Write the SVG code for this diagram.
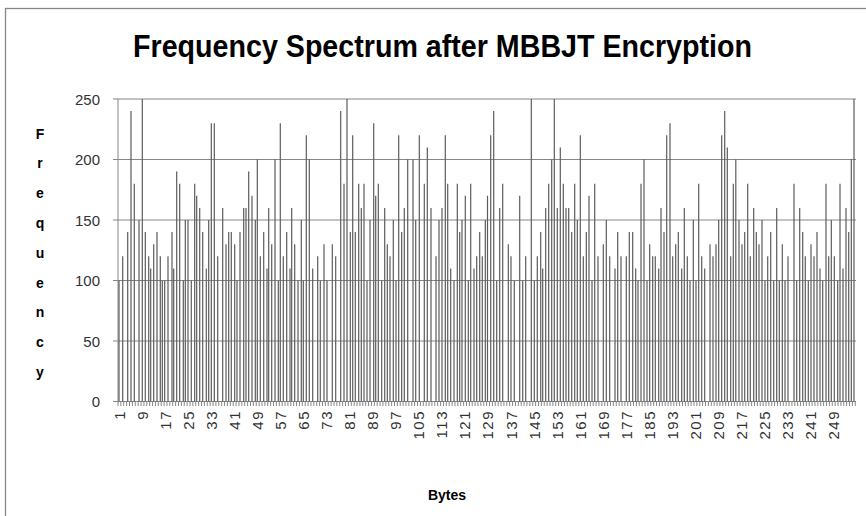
<svg xmlns="http://www.w3.org/2000/svg" width="866" height="516" viewBox="0 0 866 516">
  <style>
    .frame { fill: #ffffff; stroke: #868686; stroke-width: 1.3; }
    .grid { stroke: #868686; stroke-width: 1; fill: none; }
    .axis { stroke: #868686; stroke-width: 1; fill: none; }
    .bars { stroke: #5c5c5c; stroke-width: 1.2; fill: none; }
    .title { font-family: "Liberation Sans", Arial, sans-serif; font-weight: bold; font-size: 32px; fill: #000000; }
    .ylab { font-family: "Liberation Sans", Arial, sans-serif; font-size: 15px; fill: #333333; text-anchor: end; }
    .xlab { font-family: "Liberation Sans", Arial, sans-serif; font-size: 15px; letter-spacing: 1.5px; fill: #333333; text-anchor: end; }
    .axtitle { font-family: "Liberation Sans", Arial, sans-serif; font-weight: bold; font-size: 14px; fill: #000000; text-anchor: middle; }
  </style>

  <!-- chart area -->
  <rect class="frame" x="5.5" y="8.5" width="900" height="600"/>

  <!-- chart title -->
  <text class="title" x="442.5" y="57" text-anchor="middle" textLength="619" lengthAdjust="spacingAndGlyphs">Frequency Spectrum after MBBJT Encryption</text>

  <!-- horizontal gridlines: 250, 200, 150, 100, 50 -->
  <g id="gridlines">
    <path class="grid" d="M118 99H856M118 159.5H856M118 220H856M118 280.5H856M118 341H856"/>
  </g>

  <!-- axes with tick marks -->
  <g id="axes">
    <path class="axis" d="M118 99V401.5H856"/>
    <path class="axis" d="M113 99H118M113 159.5H118M113 220H118M113 280.5H118M113 341H118M113 401.5H118"/>
    <path class="axis" d="M118 401.5V406 M120.88 401.5V406 M123.76 401.5V406 M126.64 401.5V406 M129.52 401.5V406 M132.40 401.5V406 M135.28 401.5V406 M138.16 401.5V406 M141.04 401.5V406 M143.92 401.5V406 M146.80 401.5V406 M149.68 401.5V406 M152.56 401.5V406 M155.44 401.5V406 M158.32 401.5V406 M161.20 401.5V406 M164.08 401.5V406 M166.96 401.5V406 M169.84 401.5V406 M172.72 401.5V406 M175.60 401.5V406 M178.48 401.5V406 M181.36 401.5V406 M184.24 401.5V406 M187.12 401.5V406 M190.00 401.5V406 M192.88 401.5V406 M195.76 401.5V406 M198.64 401.5V406 M201.52 401.5V406 M204.40 401.5V406 M207.28 401.5V406 M210.16 401.5V406 M213.04 401.5V406 M215.92 401.5V406 M218.80 401.5V406 M221.68 401.5V406 M224.56 401.5V406 M227.44 401.5V406 M230.32 401.5V406 M233.20 401.5V406 M236.08 401.5V406 M238.96 401.5V406 M241.84 401.5V406 M244.72 401.5V406 M247.60 401.5V406 M250.48 401.5V406 M253.36 401.5V406 M256.24 401.5V406 M259.12 401.5V406 M262.00 401.5V406 M264.88 401.5V406 M267.76 401.5V406 M270.64 401.5V406 M273.52 401.5V406 M276.40 401.5V406 M279.28 401.5V406 M282.16 401.5V406 M285.04 401.5V406 M287.92 401.5V406 M290.80 401.5V406 M293.68 401.5V406 M296.56 401.5V406 M299.44 401.5V406 M302.32 401.5V406 M305.20 401.5V406 M308.08 401.5V406 M310.96 401.5V406 M313.84 401.5V406 M316.72 401.5V406 M319.60 401.5V406 M322.48 401.5V406 M325.36 401.5V406 M328.24 401.5V406 M331.12 401.5V406 M334.00 401.5V406 M336.88 401.5V406 M339.76 401.5V406 M342.64 401.5V406 M345.52 401.5V406 M348.40 401.5V406 M351.28 401.5V406 M354.16 401.5V406 M357.04 401.5V406 M359.92 401.5V406 M362.80 401.5V406 M365.68 401.5V406 M368.56 401.5V406 M371.44 401.5V406 M374.32 401.5V406 M377.20 401.5V406 M380.08 401.5V406 M382.96 401.5V406 M385.84 401.5V406 M388.72 401.5V406 M391.60 401.5V406 M394.48 401.5V406 M397.36 401.5V406 M400.24 401.5V406 M403.12 401.5V406 M406.00 401.5V406 M408.88 401.5V406 M411.76 401.5V406 M414.64 401.5V406 M417.52 401.5V406 M420.40 401.5V406 M423.28 401.5V406 M426.16 401.5V406 M429.04 401.5V406 M431.92 401.5V406 M434.80 401.5V406 M437.68 401.5V406 M440.56 401.5V406 M443.44 401.5V406 M446.32 401.5V406 M449.20 401.5V406 M452.08 401.5V406 M454.96 401.5V406 M457.84 401.5V406 M460.72 401.5V406 M463.60 401.5V406 M466.48 401.5V406 M469.36 401.5V406 M472.24 401.5V406 M475.12 401.5V406 M478.00 401.5V406 M480.88 401.5V406 M483.76 401.5V406 M486.64 401.5V406 M489.52 401.5V406 M492.40 401.5V406 M495.28 401.5V406 M498.16 401.5V406 M501.04 401.5V406 M503.92 401.5V406 M506.80 401.5V406 M509.68 401.5V406 M512.56 401.5V406 M515.44 401.5V406 M518.32 401.5V406 M521.20 401.5V406 M524.08 401.5V406 M526.96 401.5V406 M529.84 401.5V406 M532.72 401.5V406 M535.60 401.5V406 M538.48 401.5V406 M541.36 401.5V406 M544.24 401.5V406 M547.12 401.5V406 M550.00 401.5V406 M552.88 401.5V406 M555.76 401.5V406 M558.64 401.5V406 M561.52 401.5V406 M564.40 401.5V406 M567.28 401.5V406 M570.16 401.5V406 M573.04 401.5V406 M575.92 401.5V406 M578.80 401.5V406 M581.68 401.5V406 M584.56 401.5V406 M587.44 401.5V406 M590.32 401.5V406 M593.20 401.5V406 M596.08 401.5V406 M598.96 401.5V406 M601.84 401.5V406 M604.72 401.5V406 M607.60 401.5V406 M610.48 401.5V406 M613.36 401.5V406 M616.24 401.5V406 M619.12 401.5V406 M622.00 401.5V406 M624.88 401.5V406 M627.76 401.5V406 M630.64 401.5V406 M633.52 401.5V406 M636.40 401.5V406 M639.28 401.5V406 M642.16 401.5V406 M645.04 401.5V406 M647.92 401.5V406 M650.80 401.5V406 M653.68 401.5V406 M656.56 401.5V406 M659.44 401.5V406 M662.32 401.5V406 M665.20 401.5V406 M668.08 401.5V406 M670.96 401.5V406 M673.84 401.5V406 M676.72 401.5V406 M679.60 401.5V406 M682.48 401.5V406 M685.36 401.5V406 M688.24 401.5V406 M691.12 401.5V406 M694.00 401.5V406 M696.88 401.5V406 M699.76 401.5V406 M702.64 401.5V406 M705.52 401.5V406 M708.40 401.5V406 M711.28 401.5V406 M714.16 401.5V406 M717.04 401.5V406 M719.92 401.5V406 M722.80 401.5V406 M725.68 401.5V406 M728.56 401.5V406 M731.44 401.5V406 M734.32 401.5V406 M737.20 401.5V406 M740.08 401.5V406 M742.96 401.5V406 M745.84 401.5V406 M748.72 401.5V406 M751.60 401.5V406 M754.48 401.5V406 M757.36 401.5V406 M760.24 401.5V406 M763.12 401.5V406 M766.00 401.5V406 M768.88 401.5V406 M771.76 401.5V406 M774.64 401.5V406 M777.52 401.5V406 M780.40 401.5V406 M783.28 401.5V406 M786.16 401.5V406 M789.04 401.5V406 M791.92 401.5V406 M794.80 401.5V406 M797.68 401.5V406 M800.56 401.5V406 M803.44 401.5V406 M806.32 401.5V406 M809.20 401.5V406 M812.08 401.5V406 M814.96 401.5V406 M817.84 401.5V406 M820.72 401.5V406 M823.60 401.5V406 M826.48 401.5V406 M829.36 401.5V406 M832.24 401.5V406 M835.12 401.5V406 M838.00 401.5V406 M840.88 401.5V406 M843.76 401.5V406 M846.64 401.5V406 M849.52 401.5V406 M852.40 401.5V406 M855.28 401.5V406"/>
  </g>

  <!-- data series: one vertical bar per byte value -->
  <g id="series">
    <path class="bars" d="M119 401.5V280.5M122.7 401.5V256.3M127.7 401.5V232.1M131 401.5V111.1M134.3 401.5V183.7M139 401.5V220M142.3 401.5V99M145.3 401.5V232.1M148.7 401.5V256.3M150.7 401.5V268.4M153.7 401.5V244.2M157 401.5V232.1M160.3 401.5V256.3M162.3 401.5V280.5M164.7 401.5V280.5M168 401.5V256.3M172 401.5V232.1M173.7 401.5V268.4M176.7 401.5V171.6M179.7 401.5V183.7M183.3 401.5V280.5M185.3 401.5V220M188 401.5V220M191.3 401.5V280.5M194.7 401.5V183.7M196.7 401.5V195.8M199.7 401.5V207.9M202.7 401.5V232.1M206.3 401.5V268.4M208.7 401.5V220M211.3 401.5V123.2M214.3 401.5V123.2M217.7 401.5V256.3M222.7 401.5V207.9M226 401.5V244.2M228.7 401.5V232.1M231.3 401.5V232.1M234.7 401.5V244.2M237 401.5V280.5M240 401.5V232.1
      M243.7 401.5V207.9M246 401.5V207.9M248.7 401.5V171.6M252 401.5V195.8M255.3 401.5V220M257.3 401.5V159.5M260.3 401.5V256.3M263.7 401.5V232.1M267 401.5V268.4M268.7 401.5V207.9M271.7 401.5V244.2M275 401.5V159.5M278.3 401.5V280.5M280.3 401.5V123.2M283.3 401.5V256.3M286.7 401.5V232.1M290 401.5V268.4M291.7 401.5V207.9M294.7 401.5V244.2M298 401.5V280.5M301.3 401.5V220M303.3 401.5V280.5M306.3 401.5V135.3M309.3 401.5V159.5M312.7 401.5V268.4M317.7 401.5V256.3M320.3 401.5V280.5M324 401.5V244.2M327 401.5V280.5M332.3 401.5V244.2M335.7 401.5V256.3M340.7 401.5V111.1M344 401.5V183.7M347 401.5V99M350.3 401.5V232.1M352.7 401.5V135.3M355.3 401.5V232.1M358.7 401.5V183.7M361.3 401.5V207.9
      M364 401.5V183.7M367 401.5V280.5M370 401.5V220M373.7 401.5V123.2M375.7 401.5V195.8M378.3 401.5V183.7M381.7 401.5V280.5M384.7 401.5V207.9M387.3 401.5V244.2M390 401.5V256.3M393.3 401.5V220M396 401.5V280.5M398.7 401.5V135.3M401.7 401.5V232.1M404.3 401.5V207.9M407.7 401.5V159.5M413 401.5V159.5M415.7 401.5V220M419.3 401.5V135.3M424.3 401.5V183.7M427.3 401.5V147.4M431 401.5V207.9M436 401.5V256.3M439 401.5V220M442 401.5V207.9M445.3 401.5V135.3M447.7 401.5V183.7M450.7 401.5V268.4M454 401.5V280.5M457.3 401.5V183.7M459.7 401.5V232.1M462 401.5V220M465.3 401.5V195.8M468.3 401.5V280.5M470.7 401.5V183.7M474 401.5V268.4M476.7 401.5V256.3M479.7 401.5V232.1M482.3 401.5V256.3M485.3 401.5V220M487.5 401.5V195.8
      M490.7 401.5V135.3M493.7 401.5V111.1M496.7 401.5V280.5M499.7 401.5V207.9M502.7 401.5V183.7M508.3 401.5V244.2M511 401.5V256.3M514.3 401.5V280.5M519.7 401.5V195.8M522.7 401.5V280.5M525.7 401.5V256.3M531.3 401.5V99M534.3 401.5V280.5M537.3 401.5V256.3M540.7 401.5V232.1M542.7 401.5V268.4M545.7 401.5V207.9M548.7 401.5V183.7M551.7 401.5V159.5M554.3 401.5V99M557.3 401.5V207.9M560.3 401.5V147.4M563.3 401.5V183.7M566 401.5V207.9M568.7 401.5V207.9M571.7 401.5V232.1M574.7 401.5V183.7M577.3 401.5V220M580.3 401.5V135.3M583.3 401.5V256.3M586.3 401.5V232.1M589 401.5V195.8M592 401.5V280.5M594.7 401.5V183.7M598 401.5V256.3M603.3 401.5V244.2M606.3 401.5V220M609.7 401.5V256.3
      M615 401.5V268.4M617.7 401.5V232.1M621 401.5V256.3M626.3 401.5V256.3M629.3 401.5V232.1M632.7 401.5V232.1M635.7 401.5V268.4M638 401.5V280.5M641 401.5V183.7M644 401.5V159.5M647 401.5V280.5M649.7 401.5V244.2M652.7 401.5V256.3M655.3 401.5V256.3M658.7 401.5V268.4M661 401.5V207.9M664 401.5V232.1M666.7 401.5V135.3M670 401.5V123.2M672.7 401.5V256.3M675.7 401.5V244.2M678.3 401.5V232.1M681.7 401.5V268.4M684.3 401.5V207.9M687.3 401.5V256.3M690 401.5V280.5M693.3 401.5V220M696 401.5V280.5M698.7 401.5V183.7M701.7 401.5V256.3M704.7 401.5V268.4M710 401.5V244.2M713 401.5V256.3M716 401.5V244.2M718.7 401.5V220M721.7 401.5V135.3M724.7 401.5V111.1M727.3 401.5V147.4M730.7 401.5V256.3M733.3 401.5V183.7M735.8 401.5V159.5
      M739 401.5V220M742 401.5V244.2M744.7 401.5V232.1M747.7 401.5V183.7M750.3 401.5V256.3M753.7 401.5V207.9M756.3 401.5V232.1M759 401.5V244.2M762 401.5V220M765 401.5V280.5M767.7 401.5V256.3M770.7 401.5V232.1M773.7 401.5V280.5M776.7 401.5V207.9M779.3 401.5V280.5M782.3 401.5V244.2M785 401.5V280.5M788 401.5V256.3M794 401.5V183.7M796.7 401.5V280.5M799.7 401.5V207.9M802.7 401.5V232.1M805.3 401.5V256.3M808.3 401.5V280.5M811 401.5V244.2M814 401.5V256.3M817 401.5V232.1M820 401.5V268.4M822.7 401.5V280.5M826 401.5V183.7M828.7 401.5V256.3M831.3 401.5V220M834.3 401.5V256.3M837.7 401.5V280.5M840 401.5V183.7M843 401.5V268.4M846 401.5V207.9M848.7 401.5V232.1M851.3 401.5V159.5M854 401.5V99"/>
  </g>

  <!-- value axis labels -->
  <g id="value-axis-labels">
    <text class="ylab" x="100" y="104.5">250</text>
    <text class="ylab" x="100" y="165">200</text>
    <text class="ylab" x="100" y="225.5">150</text>
    <text class="ylab" x="100" y="286">100</text>
    <text class="ylab" x="100" y="346.5">50</text>
    <text class="ylab" x="100" y="407">0</text>
  </g>

  <!-- category axis labels, rotated -->
  <g id="category-axis-labels">
    <text class="xlab" transform="translate(124.8 410) rotate(-90)">1</text>
    <text class="xlab" transform="translate(147.8 410) rotate(-90)">9</text>
    <text class="xlab" transform="translate(170.9 410) rotate(-90)">17</text>
    <text class="xlab" transform="translate(193.9 410) rotate(-90)">25</text>
    <text class="xlab" transform="translate(217.0 410) rotate(-90)">33</text>
    <text class="xlab" transform="translate(240.0 410) rotate(-90)">41</text>
    <text class="xlab" transform="translate(263.0 410) rotate(-90)">49</text>
    <text class="xlab" transform="translate(286.1 410) rotate(-90)">57</text>
    <text class="xlab" transform="translate(309.1 410) rotate(-90)">65</text>
    <text class="xlab" transform="translate(332.2 410) rotate(-90)">73</text>
    <text class="xlab" transform="translate(355.2 410) rotate(-90)">81</text>
    <text class="xlab" transform="translate(378.2 410) rotate(-90)">89</text>
    <text class="xlab" transform="translate(401.3 410) rotate(-90)">97</text>
    <text class="xlab" transform="translate(424.3 410) rotate(-90)">105</text>
    <text class="xlab" transform="translate(447.4 410) rotate(-90)">113</text>
    <text class="xlab" transform="translate(470.4 410) rotate(-90)">121</text>
    <text class="xlab" transform="translate(493.4 410) rotate(-90)">129</text>
    <text class="xlab" transform="translate(516.5 410) rotate(-90)">137</text>
    <text class="xlab" transform="translate(539.5 410) rotate(-90)">145</text>
    <text class="xlab" transform="translate(562.6 410) rotate(-90)">153</text>
    <text class="xlab" transform="translate(585.6 410) rotate(-90)">161</text>
    <text class="xlab" transform="translate(608.6 410) rotate(-90)">169</text>
    <text class="xlab" transform="translate(631.7 410) rotate(-90)">177</text>
    <text class="xlab" transform="translate(654.7 410) rotate(-90)">185</text>
    <text class="xlab" transform="translate(677.8 410) rotate(-90)">193</text>
    <text class="xlab" transform="translate(700.8 410) rotate(-90)">201</text>
    <text class="xlab" transform="translate(723.8 410) rotate(-90)">209</text>
    <text class="xlab" transform="translate(746.9 410) rotate(-90)">217</text>
    <text class="xlab" transform="translate(769.9 410) rotate(-90)">225</text>
    <text class="xlab" transform="translate(793.0 410) rotate(-90)">233</text>
    <text class="xlab" transform="translate(816.0 410) rotate(-90)">241</text>
    <text class="xlab" transform="translate(839.0 410) rotate(-90)">249</text>
  </g>

  <!-- axis titles -->
  <g id="axis-titles">
    <text class="axtitle" x="40" y="138.5">F</text>
    <text class="axtitle" x="40" y="168.3">r</text>
    <text class="axtitle" x="40" y="198.1">e</text>
    <text class="axtitle" x="40" y="227.9">q</text>
    <text class="axtitle" x="40" y="257.7">u</text>
    <text class="axtitle" x="40" y="287.5">e</text>
    <text class="axtitle" x="40" y="317.3">n</text>
    <text class="axtitle" x="40" y="347.1">c</text>
    <text class="axtitle" x="40" y="376.9">y</text>
    <text class="axtitle" x="447" y="500" font-size="15">Bytes</text>
  </g>
</svg>
